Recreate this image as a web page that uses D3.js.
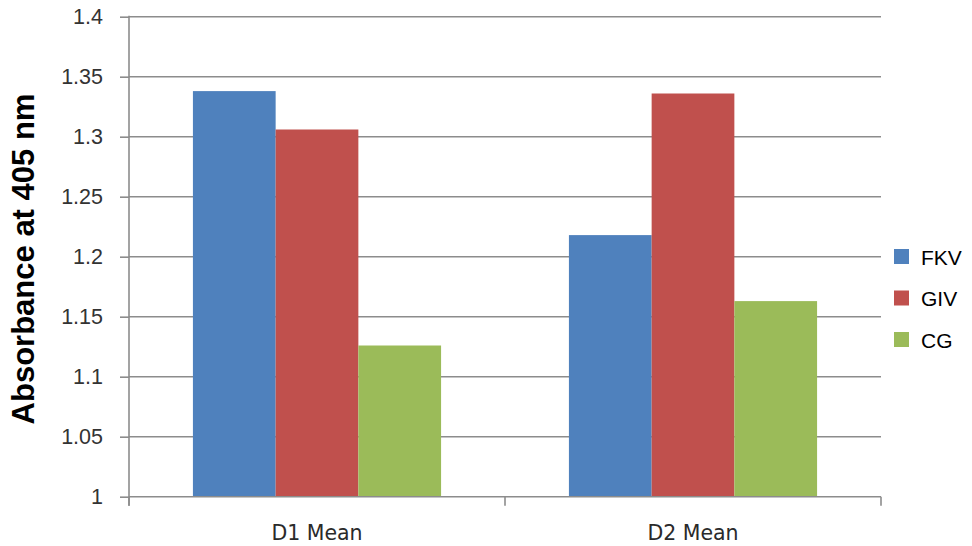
<!DOCTYPE html>
<html>
<head>
<meta charset="utf-8">
<script src="https://cdn.jsdelivr.net/npm/d3@7"></script>
<style>
  html, body { margin: 0; padding: 0; background: #fff; }
  svg { display: block; }
</style>
</head>
<body>
<svg id="chart" width="972" height="546"></svg>
<script>
// Absorbance means per group and day
const categories = ["D1 Mean", "D2 Mean"];
const seriesNames = ["FKV", "GIV", "CG"];
const fkvValues = [1.338, 1.218];
const givValues = [1.306, 1.336];
const cgValues = [1.126, 1.163];
const yTicks = [1, 1.05, 1.1, 1.15, 1.2, 1.25, 1.3, 1.35, 1.4];
const yTickLabels = ["1", "1.05", "1.1", "1.15", "1.2", "1.25", "1.3", "1.35", "1.4"];
const colors = ["#4F81BD", "#C0504D", "#9BBB59"];

const seriesValues = [fkvValues, givValues, cgValues];
const rows = categories.map((c, i) => ({
  category: c,
  values: seriesNames.map((s, j) => ({ series: s, value: seriesValues[j][i] }))
}));

const svg = d3.select("#chart");
const plot = { left: 129, right: 881, top: 16.7, bottom: 496.7 };

const x = d3.scaleBand().domain(categories).range([plot.left, plot.right])
  .paddingInner(0.34).paddingOuter(0.17);
const xs = d3.scaleBand().domain(seriesNames).range([0, x.bandwidth()]);
const y = d3.scaleLinear().domain([1, 1.4]).range([plot.bottom, plot.top]);

// horizontal gridlines
svg.append("g")
  .selectAll("line")
  .data(yTicks.filter(t => t > 1))
  .join("line")
  .attr("x1", plot.left).attr("x2", plot.right)
  .attr("y1", d => y(d)).attr("y2", d => y(d))
  .attr("stroke", "#8c8c8c").attr("stroke-width", 1.6);

// bars
const groups = svg.append("g").selectAll("g")
  .data(rows).join("g")
  .attr("transform", d => `translate(${x(d.category)},0)`);
groups.selectAll("rect")
  .data(d => d.values).join("rect")
  .attr("x", d => xs(d.series))
  .attr("width", xs.bandwidth())
  .attr("y", d => y(d.value))
  .attr("height", d => y(1) - y(d.value))
  .attr("fill", (d, i) => colors[i]);

// y axis
const yAxis = d3.axisLeft(y).tickValues(yTicks)
  .tickFormat((d, i) => yTickLabels[i]).tickSize(9).tickPadding(17);
const gy = svg.append("g").attr("transform", `translate(${plot.left},0)`).call(yAxis);
gy.select(".domain").remove();
gy.append("line").attr("x1", 0).attr("x2", 0)
  .attr("y1", plot.top - 1).attr("y2", plot.bottom + 9)
  .attr("stroke", "#8c8c8c").attr("stroke-width", 1.6);
gy.selectAll(".tick line").attr("stroke", "#8c8c8c").attr("stroke-width", 1.6);
gy.selectAll(".tick text")
  .attr("fill", "#333")
  .style("font-family", "Liberation Sans, Arial, sans-serif")
  .style("font-size", "21.5px");

// x axis
const xBoundaries = d3.scaleLinear().domain([0, 2]).range([plot.left, plot.right]);
const gx = svg.append("g");
gx.append("line")
  .attr("x1", plot.left).attr("x2", plot.right)
  .attr("y1", plot.bottom).attr("y2", plot.bottom)
  .attr("stroke", "#8c8c8c").attr("stroke-width", 1.6);
gx.selectAll("line.tick")
  .data([0, 1, 2]).join("line").attr("class", "tick")
  .attr("x1", d => xBoundaries(d)).attr("x2", d => xBoundaries(d))
  .attr("y1", plot.bottom).attr("y2", plot.bottom + 9)
  .attr("stroke", "#8c8c8c").attr("stroke-width", 1.6);
gx.selectAll("text")
  .data(categories).join("text")
  .attr("x", d => x(d) + x.bandwidth() / 2)
  .attr("y", 540)
  .attr("text-anchor", "middle")
  .attr("fill", "#2a2a2a")
  .style("font-family", "DejaVu Sans, sans-serif")
  .style("font-size", "20.5px")
  .text(d => d);

// y axis title
svg.append("text")
  .attr("transform", `translate(34,259) rotate(-90)`)
  .attr("text-anchor", "middle")
  .attr("fill", "#000")
  .style("font-family", "Liberation Sans, Arial, sans-serif")
  .style("font-weight", "bold")
  .style("font-size", "31px")
  .text("Absorbance at 405 nm");

// legend
const legend = svg.append("g").selectAll("g")
  .data(seriesNames).join("g")
  .attr("transform", (d, i) => `translate(894,${257 + i * 41.5})`);
legend.append("rect")
  .attr("x", 0).attr("y", -8).attr("width", 15).attr("height", 15)
  .attr("fill", (d, i) => colors[i]);
legend.append("text")
  .attr("x", 27).attr("y", 7.5)
  .attr("fill", "#000")
  .style("font-family", "Liberation Sans, Arial, sans-serif")
  .style("font-size", "21px")
  .text(d => d);
</script>
</body>
</html>
